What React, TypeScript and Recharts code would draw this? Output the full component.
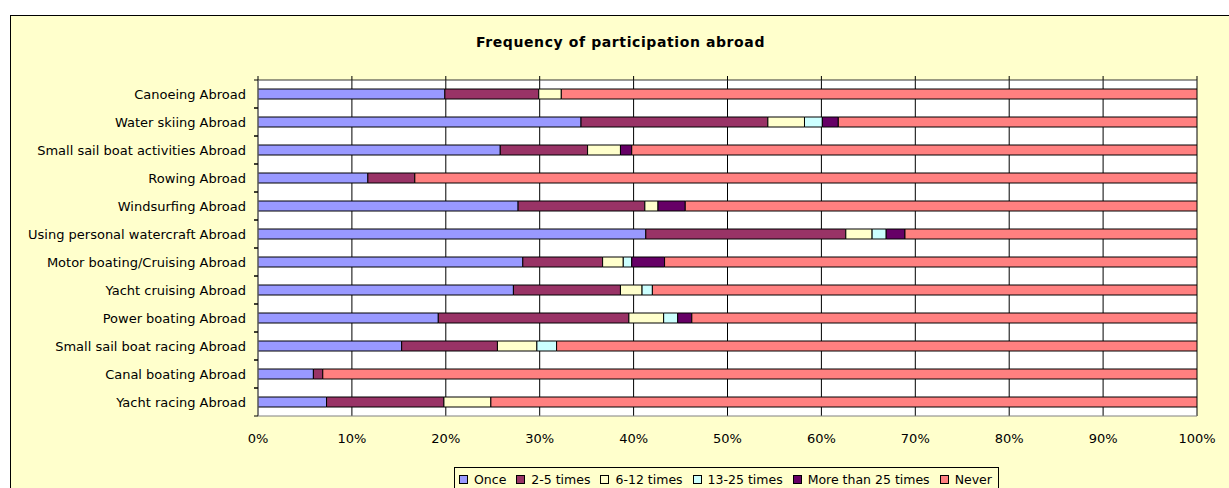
import { BarChart, Bar, XAxis, YAxis, CartesianGrid, Legend } from "recharts";

const categories = [
  "Canoeing Abroad",
  "Water skiing Abroad",
  "Small sail boat activities Abroad",
  "Rowing Abroad",
  "Windsurfing Abroad",
  "Using personal watercraft Abroad",
  "Motor boating/Cruising Abroad",
  "Yacht cruising Abroad",
  "Power boating Abroad",
  "Small sail boat racing Abroad",
  "Canal boating Abroad",
  "Yacht racing Abroad",
];

const once = [19.9, 34.4, 25.8, 11.7, 27.7, 41.3, 28.2, 27.2, 19.2, 15.3, 5.9, 7.3];
const twoToFive = [10.0, 19.9, 9.3, 5.0, 13.5, 21.3, 8.5, 11.4, 20.3, 10.2, 1.0, 12.5];
const sixToTwelve = [2.4, 3.9, 3.5, 0, 1.4, 2.8, 2.2, 2.3, 3.7, 4.2, 0, 5.0];
const thirteenToTwentyFive = [0, 1.9, 0, 0, 0, 1.5, 0.9, 1.1, 1.5, 2.1, 0, 0];
const moreThan25 = [0, 1.7, 1.2, 0, 2.9, 2.0, 3.5, 0, 1.5, 0, 0, 0];
const never = [67.7, 38.2, 60.2, 83.3, 54.5, 31.1, 56.7, 58.0, 53.8, 68.2, 93.1, 75.2];

const xTicks = [0, 10, 20, 30, 40, 50, 60, 70, 80, 90, 100];

const series = [
  { key: "Once", values: once, color: "#9999FF" },
  { key: "2-5 times", values: twoToFive, color: "#993366" },
  { key: "6-12 times", values: sixToTwelve, color: "#FFFFCC" },
  { key: "13-25 times", values: thirteenToTwentyFive, color: "#CCFFFF" },
  { key: "More than 25 times", values: moreThan25, color: "#660066" },
  { key: "Never", values: never, color: "#FF8080" },
];

const data = categories.map((name, i) => {
  const row: Record<string, string | number> = { name };
  series.forEach((s) => {
    row[s.key] = s.values[i];
  });
  return row;
});

const FONT = "'DejaVu Sans', Verdana, sans-serif";
const CHART_W = 1219;
const CHART_H = 473;
const MARGIN = { top: 60, right: 33, bottom: 43, left: 0 };
const TOP_AXIS_H = 4;
const X_AXIS_H = 30;
const PLOT_H = CHART_H - MARGIN.top - MARGIN.bottom - TOP_AXIS_H - X_AXIS_H;
const HALF_BAND = PLOT_H / categories.length / 2;

// category label plus Excel-style tick marks on the band boundaries
function CategoryTick(props: any) {
  const { x, y, payload } = props;
  const axisX = x + 12;
  return (
    <g>
      <line x1={axisX - 4} x2={axisX} y1={y - HALF_BAND} y2={y - HALF_BAND} stroke="#000" />
      <line x1={axisX - 4} x2={axisX} y1={y + HALF_BAND} y2={y + HALF_BAND} stroke="#000" />
      <text x={x} y={y} dy="0.35em" textAnchor="end" fontSize={13} fill="#000" fontFamily={FONT}>
        {payload.value}
      </text>
    </g>
  );
}

function LegendBox() {
  return (
    <div
      style={{
        display: "flex",
        alignItems: "center",
        border: "1px solid #000",
        background: "#FFFFCC",
        padding: "4px 6px 20px 4px",
        fontFamily: FONT,
        fontSize: 12.5,
        color: "#000",
        whiteSpace: "nowrap",
      }}
    >
      {series.map((s, i) => (
        <span
          key={s.key}
          style={{ display: "flex", alignItems: "center", marginRight: i < series.length - 1 ? 10 : 0 }}
        >
          <span
            style={{
              display: "inline-block",
              width: 7,
              height: 7,
              border: "1px solid #000",
              background: s.color,
              marginRight: 6,
            }}
          />
          {s.key}
        </span>
      ))}
    </div>
  );
}

export default function App() {
  return (
    <>
      <style>{`body{margin:0;overflow:hidden}`}</style>
      <div
        style={{
          position: "absolute",
          left: 10,
          top: 15,
          width: 1240,
          height: 490,
          border: "1px solid #000",
          background: "#FFFFCC",
          fontFamily: FONT,
        }}
      >
        <div
          style={{
            position: "absolute",
            left: 0,
            top: 18,
            width: CHART_W,
            textAlign: "center",
            fontWeight: "bold",
            fontSize: 14,
            letterSpacing: 0.6,
            color: "#000",
          }}
        >
          Frequency of participation abroad
        </div>
        <BarChart
          width={CHART_W}
          height={CHART_H}
          data={data}
          layout="vertical"
          margin={MARGIN}
          barSize={10}
        >
          <CartesianGrid
            horizontal={false}
            vertical
            stroke="#000"
            fill="#FFFFFF"
            fillOpacity={1}
          />
          <XAxis
            xAxisId="top"
            orientation="top"
            type="number"
            domain={[0, 100]}
            ticks={xTicks}
            height={TOP_AXIS_H}
            tickSize={4}
            tickLine={{ stroke: "#000" }}
            axisLine={{ stroke: "#333" }}
            tickFormatter={() => ""}
            allowDataOverflow
          />
          <XAxis
            type="number"
            domain={[0, 100]}
            ticks={xTicks}
            height={X_AXIS_H}
            tickSize={0}
            tickMargin={18}
            tickLine={false}
            axisLine={{ stroke: "#808080" }}
            tickFormatter={(v) => `${v}%`}
            tick={{ fontSize: 13, fill: "#000", fontFamily: FONT }}
            allowDataOverflow
          />
          <YAxis
            type="category"
            dataKey="name"
            width={247}
            tickSize={0}
            tickMargin={12}
            tickLine={false}
            axisLine={{ stroke: "#808080" }}
            tick={<CategoryTick />}
            interval={0}
          />
          {series.map((s) => (
            <Bar
              key={s.key}
              dataKey={s.key}
              stackId="a"
              fill={s.color}
              stroke="#000"
              strokeWidth={1}
              isAnimationActive={false}
            />
          ))}
          <Legend
            layout="horizontal"
            verticalAlign="middle"
            align="center"
            content={() => <LegendBox />}
            wrapperStyle={{ left: 443, top: 451, width: "auto" }}
          />
        </BarChart>
      </div>
    </>
  );
}
